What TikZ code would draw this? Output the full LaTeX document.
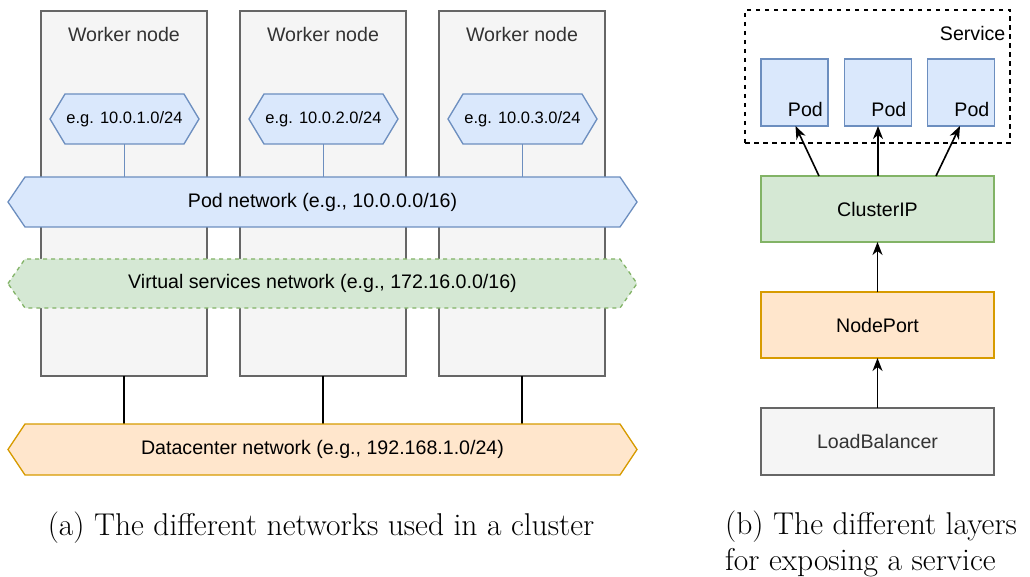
\documentclass[tikz,border=0pt]{standalone}
\usepackage{fontspec}
\newfontfamily\helv{Liberation Sans}
\usetikzlibrary{arrows.meta,calc}
\definecolor{wfill}{HTML}{F5F5F5}
\definecolor{wdraw}{HTML}{666666}
\definecolor{wtext}{HTML}{333333}
\definecolor{bfill}{HTML}{DAE8FC}
\definecolor{bdraw}{HTML}{6C8EBF}
\definecolor{gfill}{HTML}{D5E8D4}
\definecolor{gdraw}{HTML}{82B366}
\definecolor{ofill}{HTML}{FFE6CC}
\definecolor{odraw}{HTML}{D79B00}
\newcommand\hexa[3]{\draw[#3] (#1.west) -- ([xshift=#2]#1.north west) -- ([xshift=-#2]#1.north east) -- (#1.east) -- ([xshift=-#2]#1.south east) -- ([xshift=#2]#1.south west) -- cycle;}
\tikzset{
  geom/.style={draw=none, inner sep=0, outer sep=0},
  lbl/.style={inner sep=0, font=\helv\fontsize{19.6}{23}\selectfont},
  smalllbl/.style={inner sep=0, font=\helv\fontsize{16.5}{20}\selectfont},
  worker/.style={geom, draw=wdraw, fill=wfill, line width=1.3, minimum width=166, minimum height=365},
  bluehex/.style={draw=bdraw, fill=bfill, line width=1.3},
  greenhex/.style={draw=gdraw, fill=gfill, line width=1.3, dash pattern=on 4 off 4},
  orangehex/.style={draw=odraw, fill=ofill, line width=1.3},
  podbox/.style={geom, draw=bdraw, fill=bfill, line width=1.3, minimum width=67, minimum height=67},
  layerbox/.style={geom, line width=1.3, minimum width=233, minimum height=66},
  arr/.style={line width=1.6, -{Stealth[length=13, width=10, inset=4]}},
  captxt/.style={inner sep=0, font=\fontsize{31.5}{35.5}\selectfont},
}
\begin{document}
\begin{tikzpicture}[x=1pt, y=-1pt]
\useasboundingbox (0,0) rectangle (1030,577);
% worker nodes
\foreach \i/\x in {1/124, 2/323, 3/522} {
  \node[worker] (w\i) at (\x,193.5) {};
  \node[lbl, text=wtext] (w\i t) at (\x,34) {Worker node};
}
% geometry of networks
\node[geom, minimum width=629, minimum height=50] (pn) at (322.5,202) {};
\node[geom, minimum width=629, minimum height=49] (vs) at (322.5,283.5) {};
\node[geom, minimum width=629, minimum height=51] (dc) at (322.5,449.5) {};
\foreach \i/\x in {1/124.5, 2/323.5, 3/522.5} {
  \node[geom, minimum width=149, minimum height=50] (h\i) at (\x,119) {};
}
% connectors
\foreach \i in {1,2,3} {
  \draw[bdraw, line width=1.4] (h\i.south) -- (h\i.south |- pn.north);
  \draw[black, line width=1.4] (w\i.south) -- (w\i.south |- dc.north);
}
% hexagons
\foreach \i in {1,2,3} { \hexa{h\i}{15}{bluehex} }
\hexa{pn}{17}{bluehex}
\hexa{vs}{17}{greenhex}
\hexa{dc}{17}{orangehex}
\node[smalllbl] (h1t) at (h1) {e.g. 10.0.1.0/24};
\node[smalllbl] (h2t) at (h2) {e.g. 10.0.2.0/24};
\node[smalllbl] (h3t) at (h3) {e.g. 10.0.3.0/24};
\node[lbl] (pnt) at (pn) {Pod network (e.g., 10.0.0.0/16)};
\node[lbl] (vst) at (vs) {Virtual services network (e.g., 172.16.0.0/16)};
\node[lbl] (dct) at (dc) {Datacenter network (e.g., 192.168.1.0/24)};
% right side
\node[geom, draw=black, line width=1.3, dash pattern=on 4.5 off 4.5, minimum width=265, minimum height=133] (svc) at (877.5,76.5) {};
\node[lbl, anchor=east] (svct) at (1005.5,33) {Service};
\foreach \i/\x in {1/794.5, 2/878, 3/961} {
  \node[podbox] (p\i) at (\x,92.5) {};
  \node[lbl, anchor=base east] (p\i t) at ([xshift=-5, yshift=9]p\i.south east) {Pod};
}
\node[layerbox, draw=gdraw, fill=gfill] (cip) at (877.5,209) {};
\node[lbl] (cipt) at (cip) {ClusterIP};
\node[layerbox, draw=odraw, fill=ofill] (np) at (877.5,325) {};
\node[lbl] (npt) at (np) {NodePort};
\node[layerbox, draw=wdraw, fill=wfill, minimum height=67] (lb) at (877.5,441.5) {};
\node[lbl, text=wtext] (lbt) at (lb) {LoadBalancer};
\draw[arr] ([xshift=-58.5]cip.north) -- ([xshift=1]p1.south);
\draw[arr] (cip.north -| p2.south) -- (p2.south);
\draw[arr] ([xshift=58.5]cip.north) -- ([xshift=-1]p3.south);
\draw[arr] (np.north) -- (cip.south);
\draw[arr] (lb.north) -- (np.south);
% captions
\node[captxt, anchor=base] (capa) at (321,535) {(a) The different networks used in a cluster};
\node[captxt, anchor=base west, align=left] (capb) at (725,570) {(b) The different layers\\for exposing a service};
\end{tikzpicture}
\end{document}
